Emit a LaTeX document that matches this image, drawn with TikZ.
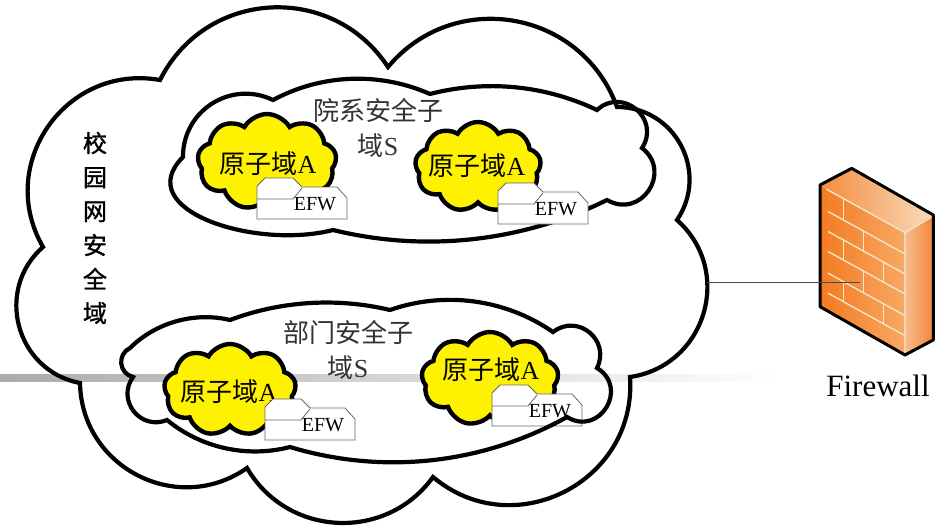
\documentclass[tikz,border=0pt]{standalone}
\usepackage{fontspec}
\setmainfont{Liberation Serif}
\newfontfamily\zhfont{Noto Sans CJK SC}
\newfontfamily\zhheavy{Noto Sans CJK SC}[FakeBold=1.2]
\usetikzlibrary{shapes.symbols}

\definecolor{fwFrontL}{HTML}{F47B20}
\definecolor{fwFrontR}{HTML}{F7A865}
\definecolor{fwTopL}{HTML}{F58B3C}
\definecolor{fwTopR}{HTML}{F8DCBC}
\definecolor{fwSideL}{HTML}{F7BC8E}
\definecolor{fwSideR}{HTML}{F28637}
\definecolor{mortar}{HTML}{F2EBCB}

\begin{document}
\begin{tikzpicture}[x=1pt,y=-1pt,
  lobe/.style 2 args={bend left=#1,looseness=#2},
  cloudline/.style={draw=black,line width=4.2pt,line join=miter},
  atom/.style={cloud,cloud puffs=9,cloud puff arc=120,cloud ignores aspect,
    draw=black,line width=4.4pt,fill=yellow,inner sep=0pt},
  atomtxt/.style={font=\fontsize{26}{30}\selectfont,inner sep=0pt},
  sublbl/.style={font=\fontsize{26}{35}\selectfont,text=black!80,align=center,inner sep=0pt},
  campuslbl/.style={font=\zhheavy\fontsize{24}{34}\selectfont,align=center,inner sep=0pt},
  efwline/.style={draw=black!60,line width=0.8pt},
  efwtext/.style={font=\fontsize{20}{22}\selectfont,inner sep=0pt},
  brick/.style={draw=mortar,line width=1.3pt,line cap=round},
  link/.style={draw=black!70,line width=0.8pt},
  fwtext/.style={font=\fontsize{31}{34}\selectfont,inner sep=0pt},
  efw/.pic={
    \draw[efwline,fill=white] (0,41) -- (0,8) -- (8,0) -- (36,0) -- (45,9)
      -- (80,9) -- (90,20) -- (90,41) -- cycle;
    \draw[efwline] (0,21) -- (36,21) -- (45,10);
    \node[efwtext,anchor=base] (-lbl) at (58,32) {EFW};
  }]
\useasboundingbox (0,0) rectangle (937,527);

% fading rule across the slide
\shade[left color=black!33,right color=white] (0,374) rectangle (780,381);

% campus-wide security domain
\draw[cloudline] (160,80) to[lobe={60}{1.14}] (388,67) to[lobe={60}{1.14}] (617,107)
  to[lobe={62}{1.16}] (677,220) to[lobe={65}{1.2}] (630,377) to[lobe={67}{1.22}] (433,477)
  to[lobe={57}{1.1}] (247,468) to[lobe={62}{1.16}] (80,383) to[lobe={64}{1.18}] (43,247)
  to[lobe={65}{1.2}] (160,80) -- cycle;

% faculty sub-domain
\draw[cloudline] (183,157) to[lobe={58}{1.12}] (273,100) to[lobe={26}{0.9}] (430,94)
  to[lobe={20}{0.88}] (597,110) to[lobe={83}{1.51}] (642,148) to[lobe={86}{1.6}] (607,200)
  to[lobe={20}{0.88}] (333,230) .. controls (255,250) and (130,210) .. (183,157) -- cycle;

% atomic domains
\node[atom,minimum width=139pt,minimum height=96pt] (atom1) at (267,162) {};
\node[atom,minimum width=126pt,minimum height=90pt] (atom2) at (478,167) {};
\node[atom,minimum width=132pt,minimum height=92pt] (atom3) at (230,390) {};
\node[atom,minimum width=137pt,minimum height=94pt] (atom4) at (490,379) {};

\node[atomtxt] (atomlbl1) at (268,164) {{\zhfont 原子域}A};
\node[atomtxt] (atomlbl2) at (477,166) {{\zhfont 原子域}A};
\node[atomtxt] (atomlbl3) at (229,392) {{\zhfont 原子域}A};
\node[atomtxt] (atomlbl4) at (491,370) {{\zhfont 原子域}A};

% EFW boxes
\pic (efwA) at (257,178) {efw};
\pic (efwB) at (498,183) {efw};
\pic (efwC) at (265,399) {efw};
\pic (efwD) at (492,385) {efw};

% department sub-domain
\draw[cloudline] (130,348) to[lobe={29}{0.9}] (230,320) to[lobe={17}{0.87}] (390,310)
  to[lobe={27}{0.9}] (553,332) to[lobe={77}{1.4}] (597,368) to[lobe={90}{1.7}] (567,417)
  to[lobe={23}{0.89}] (290,447) to[lobe={27}{0.9}] (167,420) to[lobe={74}{1.34}] (133,377)
  to[lobe={70}{1.28}] (130,348) -- cycle;

% labels
\node[campuslbl] (campus) at (95,228) {校\\园\\网\\安\\全\\域};
\node[sublbl] (facultylbl) at (378,128) {{\zhfont 院系安全子}\\{\zhfont 域}S};
\node[sublbl] (deptlbl) at (348,350) {{\zhfont 部门安全子}\\{\zhfont 域}S};

% firewall
\begin{scope}[shift={(815,160)},scale=0.3333]
  \shade[left color=fwFrontL,right color=fwFrontR]
    (15,75) -- (270,215) -- (270,585) -- (15,440) -- cycle;
  \shade[left color=fwTopL,right color=fwTopR]
    (15,75) -- (110,25) -- (355,165) -- (270,215) -- cycle;
  \shade[left color=fwSideL,right color=fwSideR]
    (270,215) -- (355,165) -- (355,540) -- (270,585) -- cycle;
  \draw[brick] (35,88) -- (270,218) -- (270,583);
  \draw[brick] (270,218) -- (352,170);
  \foreach \yy in {155,215,275,340,400}
    \draw[brick] (40,\yy) -- (270,\yy+127);
  \draw[brick] (85,115) -- (85,180);
  \draw[brick] (145,213) -- (145,273);
  \draw[brick] (85,240) -- (85,300);
  \draw[brick] (205,306) -- (205,366);
  \draw[brick] (145,333) -- (145,398);
  \draw[brick] (85,365) -- (85,425);
  \draw[brick] (205,431) -- (205,491);
  \draw[black,line width=3pt,line join=round]
    (15,75) -- (110,25) -- (355,165) -- (355,540) -- (270,585) -- (15,440) -- cycle;
\end{scope}

\coordinate (cloudR) at (707,282);
\coordinate (fwIn) at (860,282);
\draw[link] (cloudR) -- (fwIn);

\node[fwtext] (fwlbl) at (878,386) {Firewall};
\end{tikzpicture}
\end{document}
